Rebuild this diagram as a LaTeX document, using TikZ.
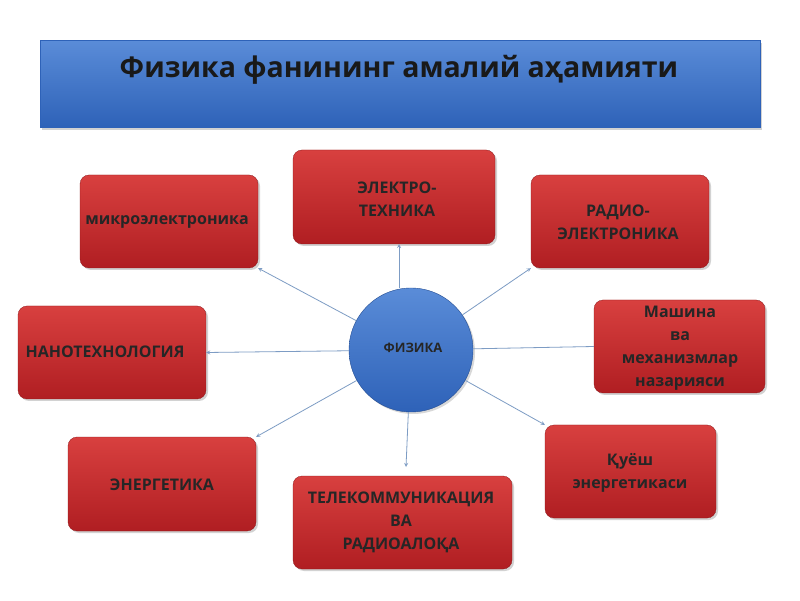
\documentclass[tikz,border=0pt]{standalone}
\usepackage{fontspec}
\setmainfont{Open Sans}
\usetikzlibrary{shadows}
\definecolor{rtop}{HTML}{D8403F}
\definecolor{rbot}{HTML}{B01E22}
\definecolor{btop}{HTML}{5A8CD8}
\definecolor{bbot}{HTML}{2E62B8}
\definecolor{ln}{HTML}{7D9CC4}
\begin{document}
\begin{tikzpicture}[x=1pt,y=1pt,
 box/.style={rectangle,rounded corners=9pt,top color=rtop,bottom color=rbot,draw=rbot!80!black,line width=0.3pt,
   drop shadow={shadow xshift=2pt,shadow yshift=-2pt,opacity=0.35},inner sep=0pt},
 lab/.style={font=\bfseries\fontsize{16}{23}\selectfont,text=black!85,align=center},
 con/.style={draw=ln,line width=0.8pt,->,>=stealth}]
\useasboundingbox (0,0) rectangle (800,600);
\fill[white] (0,0) rectangle (800,600);
\node[rectangle,top color=btop,bottom color=bbot,draw=bbot,minimum width=720,minimum height=87,anchor=north west,inner sep=0,
 drop shadow={shadow xshift=2pt,shadow yshift=-3pt,opacity=0.35}] (title) at (40,560) {};
\node[font=\bfseries\fontsize{28.5}{32}\selectfont,text=black!90] (tt) at (399,530) {Физика фанининг амалий аҳамияти};
\node[box,minimum width=202,minimum height=94] (el) at (394,403) {};
\node[box,minimum width=178,minimum height=93] (mi) at (169,378.5) {};
\node[box,minimum width=178,minimum height=93] (ra) at (620,378.5) {};
\node[box,minimum width=188,minimum height=93] (na) at (112,247.5) {};
\node[box,minimum width=171,minimum height=93] (ma) at (679.5,253.5) {};
\node[box,minimum width=188,minimum height=94] (en) at (162,116) {};
\node[box,minimum width=219,minimum height=93] (te) at (402.5,77.5) {};
\node[box,minimum width=171,minimum height=93] (ku) at (630.5,128.5) {};
\node[lab] (elt) at (397,401) {ЭЛЕКТРО-\\ТЕХНИКА};
\node[lab] (mit) at (167,378) {микроэлектроника};
\node[lab] (rat) at (618,378) {РАДИО-\\ЭЛЕКТРОНИКА};
\node[lab] (nat) at (105,248) {НАНОТЕХНОЛОГИЯ};
\node[lab] (mat) at (680,252) {Машина\\ва\\механизмлар\\назарияси};
\node[lab] (ent) at (162,115) {ЭНЕРГЕТИКА};
\node[lab] (tet) at (401,78) {ТЕЛЕКОММУНИКАЦИЯ\\ВА\\РАДИОАЛОҚА};
\node[lab] (kut) at (630,127) {Қуёш\\энергетикаси};
\node[circle,minimum size=124,inner sep=0,top color=btop,bottom color=bbot,draw=bbot!80!black,
 drop shadow={shadow xshift=2pt,shadow yshift=-2pt,opacity=0.3}] (f) at (411,250) {};
\node[font=\bfseries\fontsize{13}{15}\selectfont,text=black!85] (ft) at (413,252) {ФИЗИКА};
\coordinate (tep) at (406,133);
\coordinate (elb) at (399,356);
\coordinate (elf) at (399,312);
\draw[con] (elf) -- (elb);
\draw[con] (f) -- (mi.south east);
\draw[con] (f) -- (ra.south west);
\draw[con] (f) -- (na.east);
\draw[con] (f) -- (en.north east);
\draw[con] (f) -- (tep);
\draw[con] (f) -- (ku.north west);
\draw[draw=ln,line width=0.8pt] (f) -- (ma.west);
\end{tikzpicture}
\end{document}
